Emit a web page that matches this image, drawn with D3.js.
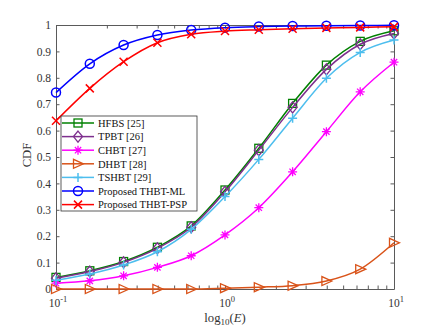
<!DOCTYPE html>
<html>
<head>
<meta charset="utf-8">
<script src="https://cdn.jsdelivr.net/npm/d3@7"></script>
<style>
  body { margin: 0; background: #fff; }
  svg { font-family: "Liberation Serif", "DejaVu Serif", serif; }
</style>
</head>
<body>
<div id="chart"></div>
<script>
// x positions: 10^-1 .. 10^1, every 0.2 decade
const xValues = [0.1, 0.1585, 0.2512, 0.3981, 0.631, 1, 1.585, 2.512, 3.981, 6.31, 10];

const hfbs   = [0.044, 0.069, 0.104, 0.158, 0.239, 0.375, 0.533, 0.703, 0.848, 0.938, 0.978];
const tpbt   = [0.041, 0.066, 0.101, 0.154, 0.234, 0.368, 0.526, 0.688, 0.832, 0.927, 0.968];
const chbt   = [0.022, 0.031, 0.050, 0.082, 0.126, 0.205, 0.308, 0.444, 0.596, 0.747, 0.859];
const dhbt   = [0, 0, 0, 0, 0, 0.003, 0.007, 0.0125, 0.030, 0.075, 0.175];
const tshbt  = [0.033, 0.057, 0.091, 0.141, 0.226, 0.350, 0.491, 0.647, 0.798, 0.896, 0.943];
const thbtML = [0.744, 0.853, 0.924, 0.962, 0.981, 0.990, 0.994, 0.996, 0.997, 0.998, 0.999];
const thbtPSP= [0.637, 0.760, 0.861, 0.933, 0.965, 0.977, 0.982, 0.986, 0.989, 0.991, 0.993];

const seriesNames = ["HFBS [25]", "TPBT [26]", "CHBT [27]", "DHBT [28]", "TSHBT [29]", "Proposed THBT-ML", "Proposed THBT-PSP"];
const yTicks = [0, 0.1, 0.2, 0.3, 0.4, 0.5, 0.6, 0.7, 0.8, 0.9, 1];
const xMajor = [0.1, 1, 10];
const xExponents = ["-1", "0", "1"];

const series = [
  { name: seriesNames[0], values: hfbs,    color: "#008000", marker: "square" },
  { name: seriesNames[1], values: tpbt,    color: "#7E2F8E", marker: "diamond" },
  { name: seriesNames[2], values: chbt,    color: "#FF00FF", marker: "asterisk" },
  { name: seriesNames[3], values: dhbt,    color: "#D95319", marker: "triangle" },
  { name: seriesNames[4], values: tshbt,   color: "#4DBEEE", marker: "plus" },
  { name: seriesNames[5], values: thbtML,  color: "#0000FF", marker: "circle" },
  { name: seriesNames[6], values: thbtPSP, color: "#FF0000", marker: "cross" }
];

const W = 436, H = 328;
const margin = { top: 25, right: 42, bottom: 39, left: 56 };
const width = W - margin.left - margin.right;
const height = H - margin.top - margin.bottom;

const svg = d3.select("#chart").append("svg")
  .attr("width", W)
  .attr("height", H);

const plot = svg.append("g")
  .attr("transform", `translate(${margin.left},${margin.top})`);

const xScale = d3.scaleLog().domain([0.1, 10]).range([0, width]);
const yScale = d3.scaleLinear().domain([0, 1]).range([height, 0]);

const axisColor = "#5a5a5a";
const textColor = "#333";
const tickLen = 3.5;

// minor log ticks (2..9 per decade) plus majors, on bottom and top
const xTicksAll = [];
[0.1, 1].forEach(d => { for (let k = 1; k <= 9; k++) xTicksAll.push(d * k); });
xTicksAll.push(10);

plot.append("g").attr("class", "x-axis")
  .attr("transform", `translate(0,${height})`)
  .call(d3.axisBottom(xScale).tickValues(xTicksAll).tickSize(-tickLen).tickSizeOuter(0).tickFormat(""))
  .call(g => g.select(".domain").attr("stroke", axisColor))
  .call(g => g.selectAll(".tick line").attr("stroke", axisColor));

plot.append("g").attr("class", "x-axis-top")
  .call(d3.axisTop(xScale).tickValues(xTicksAll).tickSize(-tickLen).tickSizeOuter(0).tickFormat(""))
  .call(g => g.select(".domain").attr("stroke", axisColor))
  .call(g => g.selectAll(".tick line").attr("stroke", axisColor));

plot.append("g").attr("class", "y-axis")
  .call(d3.axisLeft(yScale).tickValues(yTicks).tickSize(-tickLen).tickSizeOuter(0)
    .tickPadding(5).tickFormat(d => d3.format("~g")(d)))
  .call(g => g.select(".domain").attr("stroke", axisColor))
  .call(g => g.selectAll(".tick line").attr("stroke", axisColor))
  .call(g => g.selectAll(".tick text")
    .attr("font-size", 11.5).attr("fill", textColor)
    .attr("font-family", "Liberation Serif, serif"));

plot.append("g").attr("class", "y-axis-right")
  .attr("transform", `translate(${width},0)`)
  .call(d3.axisRight(yScale).tickValues(yTicks).tickSize(-tickLen).tickSizeOuter(0).tickFormat(""))
  .call(g => g.select(".domain").attr("stroke", axisColor))
  .call(g => g.selectAll(".tick line").attr("stroke", axisColor));

// x tick labels as 10^n
const xLabels = plot.append("g");
xMajor.forEach((v, i) => {
  const t = xLabels.append("text")
    .attr("x", xScale(v) + 2)
    .attr("y", height + 18)
    .attr("text-anchor", "middle")
    .attr("font-size", 11.5)
    .attr("fill", textColor);
  t.append("tspan").text("10");
  t.append("tspan").attr("dy", -5).attr("font-size", 8.5).text(xExponents[i]);
});

// axis titles
const xt = svg.append("text")
  .attr("x", margin.left + width / 2)
  .attr("y", H - 6)
  .attr("text-anchor", "middle")
  .attr("font-size", 12.7)
  .attr("fill", textColor);
xt.append("tspan").text("log");
xt.append("tspan").attr("dy", 3).attr("font-size", 9).text("10");
xt.append("tspan").attr("dy", -3).text("(");
xt.append("tspan").attr("font-style", "italic").text("E");
xt.append("tspan").text(")");

svg.append("text")
  .attr("transform", `translate(31,${margin.top + height / 2 - 2}) rotate(-90)`)
  .attr("text-anchor", "middle")
  .attr("font-size", 12.7)
  .attr("fill", textColor)
  .text("CDF");

// markers
function drawMarker(g, type, color) {
  const s = 4.5;
  if (type === "square") {
    g.append("rect").attr("x", -s + 0.5).attr("y", -s + 0.5).attr("width", 2 * s - 1).attr("height", 2 * s - 1)
      .attr("fill", "none").attr("stroke", color).attr("stroke-width", 1.3);
  } else if (type === "diamond") {
    g.append("path").attr("d", `M0,${-s - 1}L${s},0L0,${s + 1}L${-s},0Z`)
      .attr("fill", "none").attr("stroke", color).attr("stroke-width", 1.3);
  } else if (type === "circle") {
    g.append("circle").attr("r", s).attr("fill", "none").attr("stroke", color).attr("stroke-width", 1.5);
  } else if (type === "triangle") {
    g.append("path").attr("d", `M${s + 1},0L${-s},${-s}L${-s},${s}Z`)
      .attr("fill", "none").attr("stroke", color).attr("stroke-width", 1.3);
  } else if (type === "plus") {
    g.append("path").attr("d", `M${-s},0H${s}M0,${-s}V${s}`)
      .attr("stroke", color).attr("stroke-width", 1.5);
  } else if (type === "cross") {
    g.append("path").attr("d", `M${-s + 0.5},${-s + 0.5}L${s - 0.5},${s - 0.5}M${-s + 0.5},${s - 0.5}L${s - 0.5},${-s + 0.5}`)
      .attr("stroke", color).attr("stroke-width", 1.5);
  } else if (type === "asterisk") {
    const a = s * 0.7;
    g.append("path").attr("d", `M${-s},0H${s}M0,${-s}V${s}M${-a},${-a}L${a},${a}M${-a},${a}L${a},${-a}`)
      .attr("stroke", color).attr("stroke-width", 1.3);
  }
}

const line = d3.line()
  .x((d, i) => xScale(xValues[i]))
  .y(d => yScale(d))
  .curve(d3.curveMonotoneX);

const lines = plot.append("g");
series.forEach(s => {
  const g = lines.append("g");
  g.append("path")
    .attr("d", line(s.values))
    .attr("fill", "none")
    .attr("stroke", s.color)
    .attr("stroke-width", 1.5);
  s.values.forEach((v, i) => {
    drawMarker(g.append("g").attr("transform", `translate(${xScale(xValues[i])},${yScale(v)})`), s.marker, s.color);
  });
});

// legend
const legend = svg.append("g").attr("transform", "translate(61,116)");
const rowH = 13.6;
legend.append("rect")
  .attr("width", 136).attr("height", 95)
  .attr("fill", "#fff").attr("stroke", "#333").attr("stroke-width", 0.8);
series.forEach((s, i) => {
  const row = legend.append("g").attr("transform", `translate(0,${7 + i * rowH})`);
  row.append("line").attr("x1", 1).attr("x2", 33).attr("stroke", s.color).attr("stroke-width", 1.5);
  drawMarker(row.append("g").attr("transform", "translate(17,0)"), s.marker, s.color);
  row.append("text").attr("x", 37).attr("y", 3.8).attr("font-size", 10.5).attr("fill", "#111").text(s.name);
});
</script>
</body>
</html>
